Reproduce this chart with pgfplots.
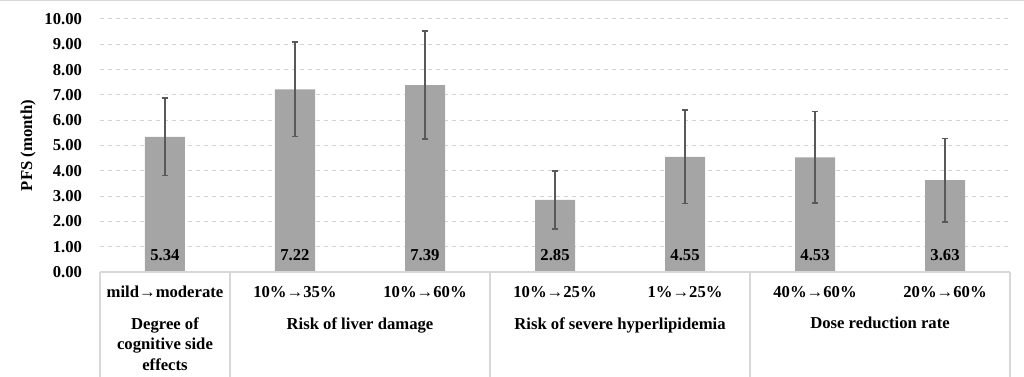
\documentclass[border=0pt]{standalone}
\usepackage{pgfplots}
\pgfplotsset{compat=1.18}
\usepackage{fontspec}
\setmainfont{Liberation Serif}
\definecolor{barfill}{RGB}{165,165,165}
\definecolor{errgray}{RGB}{89,89,89}
\definecolor{gridgray}{RGB}{210,210,210}
\definecolor{tablegray}{RGB}{215,215,215}
\newcommand{\cf}{\fontsize{12.5}{14.5}\selectfont\bfseries}
\begin{document}
\begin{tikzpicture}
\begin{axis}[
  scale only axis, width=682.5pt, height=189.75pt,
  at={(0pt,0pt)}, anchor=south west,
  xmin=-0.5, xmax=6.5, ymin=0, ymax=10,
  clip=false,
  axis line style={draw=none},
  tick style={draw=none},
  ytick={0,1,...,10},
  yticklabel style={font=\cf, /pgf/number format/fixed, /pgf/number format/fixed zerofill, /pgf/number format/precision=2, /pgf/number format/assume math mode=true},
  yticklabel style={xshift=-10pt},
  ymajorgrids, grid style={dashed, gridgray, line width=0.75pt},
  xtick={0,...,6},
  xticklabels={mild→moderate, 10\%→35\%, 10\%→60\%, 10\%→25\%, 1\%→25\%, 40\%→60\%, 20\%→60\%},
  xticklabel style={font=\cf, anchor=center, yshift=-15pt},
  ylabel={PFS (month)},
  every axis y label/.style={at={(axis description cs:0,0.5)}, xshift=-54pt, rotate=90, anchor=center, font=\cf},
]
\addplot[ybar, bar width=30pt, fill=barfill, draw=none,
  error bars/.cd, y dir=both, y explicit,
  error bar style={color=errgray, line width=1.1pt},
  error mark options={rotate=90, mark size=2.5pt, color=errgray, line width=1.1pt}]
  coordinates {
  (0,5.34) +- (0,1.53)
  (1,7.22) +- (0,1.87)
  (2,7.39) +- (0,2.14)
  (3,2.85) +- (0,1.15)
  (4,4.55) +- (0,1.85)
  (5,4.53) +- (0,1.81)
  (6,3.63) +- (0,1.65)
  };
\addplot[draw=none, mark=none, nodes near coords, point meta=explicit symbolic,
  every node near coord/.append style={anchor=center, font=\cf, text=black}]
  coordinates {
  (0,0.67) [5.34]
  (1,0.67) [7.22]
  (2,0.67) [7.39]
  (3,0.67) [2.85]
  (4,0.67) [4.55]
  (5,0.67) [4.53]
  (6,0.67) [3.63]
  };
\draw[tablegray, line width=0.8pt] (axis cs:-0.5,0) -- (axis cs:6.5,0);
\draw[tablegray, line width=0.8pt] (axis cs:-0.5,0) -- (axis cs:-0.5,-4.4);
\draw[tablegray, line width=0.8pt] (axis cs:0.5,0) -- (axis cs:0.5,-4.4);
\draw[tablegray, line width=0.8pt] (axis cs:2.5,0) -- (axis cs:2.5,-4.4);
\draw[tablegray, line width=0.8pt] (axis cs:4.5,0) -- (axis cs:4.5,-4.4);
\draw[tablegray, line width=0.8pt] (axis cs:6.5,0) -- (axis cs:6.5,-4.4);
\node[font=\cf, align=center, anchor=north, inner sep=0pt] at (axis cs:0,-1.78) {Degree of\\[1pt]cognitive side\\[1pt]effects};
\node[font=\cf, anchor=north, inner sep=0pt] at (axis cs:1.5,-1.78) {Risk of liver damage};
\node[font=\cf, anchor=north, inner sep=0pt] at (axis cs:3.5,-1.78) {Risk of severe hyperlipidemia};
\node[font=\cf, anchor=north, inner sep=0pt] at (axis cs:5.5,-1.78) {Dose reduction rate};
\end{axis}
\draw[tablegray, line width=0.8pt] (-75pt,203.6pt) -- (693pt,203.6pt);
\pgfresetboundingbox
\path (-75pt,-78.75pt) rectangle (693pt,204pt);
\end{tikzpicture}
\end{document}
